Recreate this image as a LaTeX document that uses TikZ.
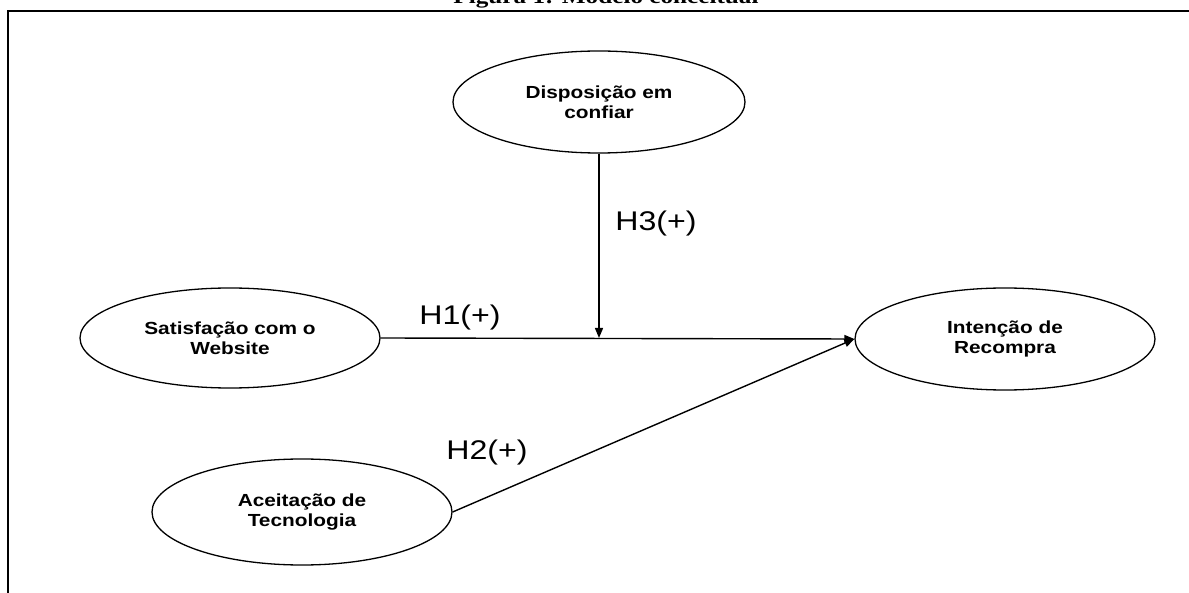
\documentclass[tikz,border=0pt]{standalone}
\usepackage{fontspec}
\setmainfont{Liberation Sans}
\newfontfamily\diagfont[FakeStretch=1.19]{Liberation Sans}
\newfontfamily\titlefont[FakeStretch=1.2]{Liberation Serif}
\usetikzlibrary{shapes.geometric,arrows.meta}
\begin{document}
\begin{tikzpicture}[x=1pt,y=-1pt,
  construct/.style={ellipse, draw, line width=1.3pt, inner sep=0pt,
    minimum width=300pt, minimum height=102pt, align=center,
    font=\diagfont\fontsize{17.5}{20}\selectfont\bfseries},
  link/.style={line width=1.4pt, -{Triangle[length=10pt,width=8pt]}},
  hyp/.style={font=\diagfont\fontsize{27}{30}\selectfont}]
\useasboundingbox (0,0) rectangle (1189,593);
\clip (0,0) rectangle (1189,593);
\node[anchor=base, inner sep=0pt, font=\titlefont\fontsize{21}{24}\selectfont\bfseries] (T) at (606,4) {Figura 1: Modelo conceitual};
\draw[line width=2pt] (8,593) -- (8,11) -- (1189,11);
\node[construct, minimum width=292pt] (D) at (599,102) {Disposição em\\confiar};
\node[construct, minimum height=100pt] (S) at (230,338) {Satisfação com o\\Website};
\node[construct] (I) at (1005,339) {Intenção de\\Recompra};
\node[construct, minimum height=106pt] (A) at (302,512) {Aceitação de\\Tecnologia};
\draw[link] (S.east) -- (I.west);
\draw[link] (D.south) -- (D.south |- S.east);
\draw[link] (A.east) -- (I.west);
\node[hyp] (H3) at (656,224) {H3(+)};
\node[hyp] (H1) at (460,318) {H1(+)};
\node[hyp] (H2) at (487,453) {H2(+)};
\end{tikzpicture}
\end{document}
